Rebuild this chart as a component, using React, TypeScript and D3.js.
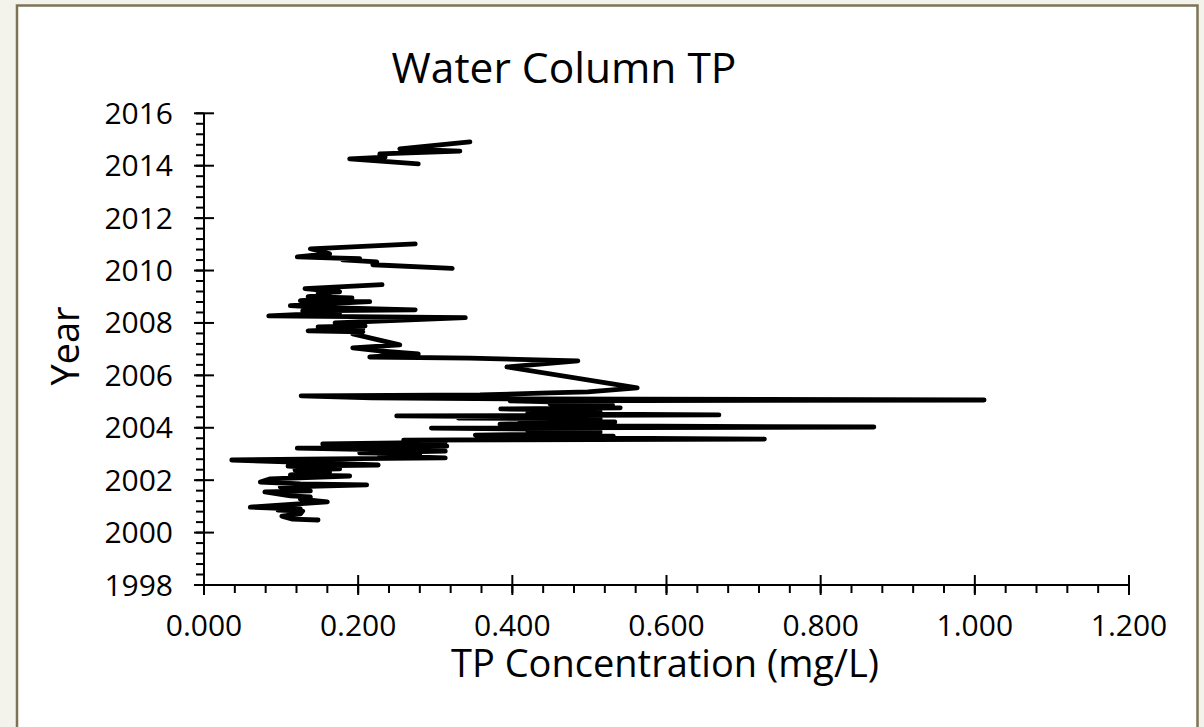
import React from "react";
import * as d3 from "d3";

// ---- Data ----
// Segment A: 2000.5 - 2009.5
const yearsA = [
  2000.48, 2000.51, 2000.63, 2000.71, 2000.82, 2000.86, 2000.90, 2000.97, 2001.17, 2001.28,
  2001.36, 2001.40, 2001.55, 2001.59, 2001.66, 2001.74, 2001.82, 2001.86, 2001.93, 2002.05,
  2002.16, 2002.20, 2002.32, 2002.39, 2002.43, 2002.54, 2002.58, 2002.66, 2002.77, 2002.81,
  2002.85, 2002.93, 2003.00, 2003.04, 2003.11, 2003.22, 2003.30, 2003.38, 2003.42, 2003.45,
  2003.53, 2003.57, 2003.61, 2003.65, 2003.68, 2003.72, 2003.76, 2003.80, 2003.84, 2003.88,
  2003.92, 2003.99, 2004.03, 2004.07, 2004.11, 2004.14, 2004.18, 2004.22, 2004.26, 2004.30,
  2004.34, 2004.37, 2004.41, 2004.45, 2004.49, 2004.53, 2004.56, 2004.60, 2004.64, 2004.68,
  2004.72, 2004.76, 2004.79, 2004.83, 2004.87, 2004.91, 2004.95, 2005.03, 2005.06, 2005.10,
  2005.14, 2005.22, 2005.25, 2005.33, 2005.37, 2005.52, 2006.32, 2006.55, 2006.66, 2006.70,
  2006.82, 2006.93, 2007.05, 2007.16, 2007.58, 2007.66, 2007.70, 2007.77, 2007.85, 2007.89,
  2008.00, 2008.20, 2008.27, 2008.39, 2008.46, 2008.50, 2008.58, 2008.66, 2008.81, 2008.85,
  2008.96, 2009.00, 2009.08, 2009.15, 2009.19, 2009.31, 2009.46,
];
const tpA = [
  0.148, 0.115, 0.101, 0.125, 0.128, 0.096, 0.125, 0.060, 0.160, 0.125,
  0.138, 0.112, 0.079, 0.138, 0.112, 0.099, 0.211, 0.125, 0.073, 0.086,
  0.189, 0.112, 0.163, 0.118, 0.176, 0.109, 0.226, 0.150, 0.036, 0.163,
  0.313, 0.228, 0.280, 0.202, 0.313, 0.121, 0.315, 0.154, 0.254, 0.313,
  0.259, 0.727, 0.480, 0.462, 0.531, 0.352, 0.470, 0.423, 0.514, 0.420,
  0.500, 0.295, 0.869, 0.520, 0.462, 0.384, 0.470, 0.533, 0.410, 0.480,
  0.514, 0.330, 0.470, 0.250, 0.668, 0.462, 0.420, 0.514, 0.440, 0.500,
  0.385, 0.540, 0.470, 0.488, 0.530, 0.449, 0.500, 0.397, 1.012, 0.410,
  0.218, 0.126, 0.358, 0.448, 0.498, 0.562, 0.393, 0.485, 0.345, 0.215,
  0.278, 0.228, 0.193, 0.254, 0.193, 0.206, 0.135, 0.206, 0.148, 0.209,
  0.170, 0.339, 0.084, 0.176, 0.128, 0.274, 0.163, 0.112, 0.215, 0.125,
  0.192, 0.135, 0.163, 0.148, 0.176, 0.131, 0.231,
];
// Segment B: 2010 - 2011
const yearsB = [2010.08, 2010.22, 2010.33, 2010.41, 2010.45, 2010.52, 2010.64, 2010.83, 2011.02];
const tpB = [0.322, 0.219, 0.224, 0.180, 0.202, 0.121, 0.163, 0.138, 0.274];
// Segment C: 2014 - 2015
const yearsC = [2014.07, 2014.26, 2014.33, 2014.45, 2014.56, 2014.64, 2014.76, 2014.91];
const tpC = [0.278, 0.189, 0.235, 0.228, 0.332, 0.254, 0.293, 0.345];

const yearTicks = [1998, 2000, 2002, 2004, 2006, 2008, 2010, 2012, 2014, 2016];
const tpTicks = [0, 0.2, 0.4, 0.6, 0.8, 1.0, 1.2];

const title = "Water Column TP";
const xTitle = "TP Concentration (mg/L)";
const yTitle = "Year";

const FONT = "'Open Sans', 'DejaVu Sans', sans-serif";

export default function App() {
  const W = 1204;
  const H = 727;
  const x = d3.scaleLinear().domain([0, 1.2]).range([204, 1129]);
  const y = d3.scaleLinear().domain([1998, 2016]).range([585, 113.3]);

  const segments = [
    { ys: yearsA, xs: tpA },
    { ys: yearsB, xs: tpB },
    { ys: yearsC, xs: tpC },
  ];
  const line = d3
    .line<[number, number]>()
    .x((d) => x(d[0]))
    .y((d) => y(d[1]));

  const yMinor: number[] = [];
  for (let i = 0; i <= 45; i++) yMinor.push(1998 + i * 0.4);
  const xMinor: number[] = [];
  for (let i = 0; i <= 30; i++) xMinor.push(i * 0.04);

  const x0 = x(0);
  const y0 = y(1998);

  return (
    <svg
      width={W}
      height={H}
      style={{ position: "absolute", left: 0, top: 0, display: "block" }}
      fontFamily={FONT}
    >
      <rect x={0} y={0} width={W} height={H} fill="#f3f3eb" />
      <rect x={17} y={5.5} width={1180.5} height={760} fill="#ffffff" stroke="#7b7455" strokeWidth={2.5} />

      <text x={564} y={83} textAnchor="middle" fontSize={42.5} fill="#000">
        {title}
      </text>

      {/* data */}
      {segments.map((s, i) => (
        <path
          key={i}
          d={line(s.xs.map((v, j) => [v, s.ys[j]] as [number, number])) || ""}
          fill="none"
          stroke="#000"
          strokeWidth={4.8}
          strokeLinecap="round"
          strokeLinejoin="round"
        />
      ))}

      {/* y axis */}
      <line x1={x0} x2={x0} y1={y(2016)} y2={y0} stroke="#000" strokeWidth={2} />
      {yMinor.map((v, i) => (
        <line key={"ym" + i} x1={x0 - 8} x2={x0} y1={y(v)} y2={y(v)} stroke="#000" strokeWidth={2} />
      ))}
      {yearTicks.map((v) => (
        <g key={"yt" + v}>
          <line x1={x0 - 10} x2={x0 + 10} y1={y(v)} y2={y(v)} stroke="#000" strokeWidth={2} />
          <text x={173} y={y(v)} dy="0.35em" textAnchor="end" fontSize={30} fill="#000">
            {v}
          </text>
        </g>
      ))}

      {/* x axis */}
      <line x1={x0} x2={x(1.2)} y1={y0} y2={y0} stroke="#000" strokeWidth={2} />
      {xMinor.map((v, i) => (
        <line key={"xm" + i} x1={x(v)} x2={x(v)} y1={y0} y2={y0 + 8} stroke="#000" strokeWidth={2} />
      ))}
      {tpTicks.map((v) => (
        <g key={"xt" + v}>
          <line x1={x(v)} x2={x(v)} y1={y0 - 10} y2={y0 + 10} stroke="#000" strokeWidth={2} />
          <text x={x(v)} y={636} textAnchor="middle" fontSize={30} fill="#000">
            {d3.format(".3f")(v)}
          </text>
        </g>
      ))}

      <text x={665} y={677} textAnchor="middle" fontSize={38} fill="#000">
        {xTitle}
      </text>
      <text
        transform={`translate(79,346) rotate(-90)`}
        textAnchor="middle"
        fontSize={38}
        fill="#000"
      >
        {yTitle}
      </text>
    </svg>
  );
}
